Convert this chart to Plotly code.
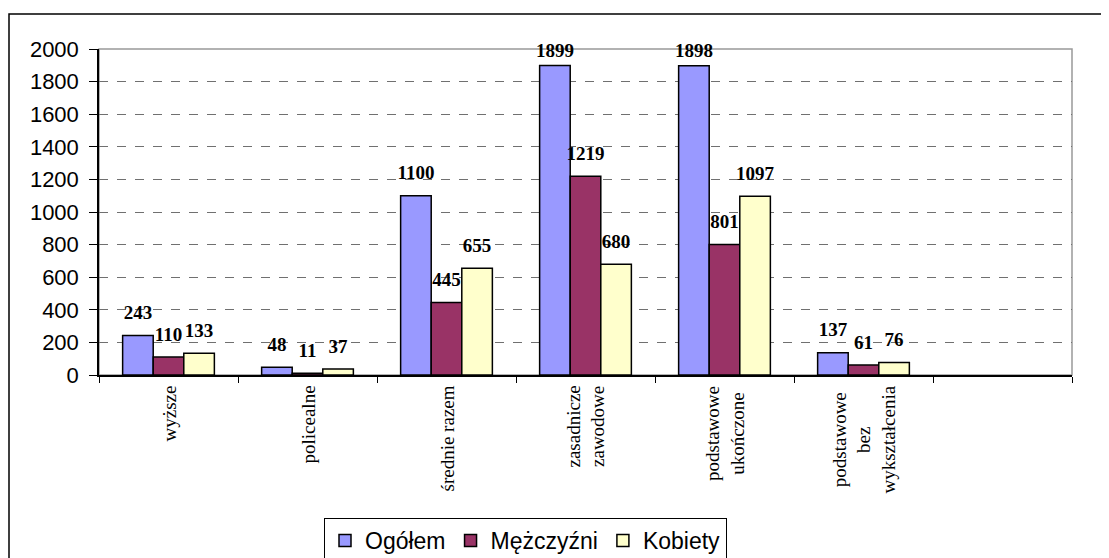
import plotly.graph_objects as go

categories = ["wyższe", "policealne", "średnie razem", "zasadnicze<br>zawodowe",
              "podstawowe<br>ukończone", "podstawowe<br>bez<br>wykształcenia", " "]
ogolem = [243, 48, 1100, 1899, 1898, 137, None]
mezczyzni = [110, 11, 445, 1219, 801, 61, None]
kobiety = [133, 37, 655, 680, 1097, 76, None]
series_names = ["Ogółem", "Mężczyźni", "Kobiety"]
colors = ["#9999FF", "#993366", "#FFFFCC"]
y_max = 2000

# page body has an 8px margin; work in page pixel coordinates and shift
OFF = 8
W, H = 1109 - OFF, 558 - OFF
PL, PR, PT, PB = 99, 1072, 49, 375          # plot area in page pixels
L, R, T, B = PL - OFF, (W + OFF) - PR, PT - OFF, (H + OFF) - PB
pw, ph = PR - PL, PB - PT

def px(x):
    return (x - PL) / pw

def py(y):
    return (PB - y) / ph

fig = go.Figure()
for name, vals, col in zip(series_names, [ogolem, mezczyzni, kobiety], colors):
    fig.add_trace(go.Bar(
        x=categories, y=vals, name=name, offsetgroup=name, alignmentgroup="a",
        marker=dict(color=col, line=dict(color="black", width=1.5)),
    ))
for name, vals in zip(series_names, [ogolem, mezczyzni, kobiety]):
    # labels near the top of the value axis are pulled closer to their bar
    sizes = [(5 if (v is not None and v > 0.9 * y_max) else 17) for v in vals]
    fig.add_trace(go.Scatter(
        x=categories, y=vals, mode="markers+text", offsetgroup=name, alignmentgroup="a",
        text=[("" if v is None else str(v)) for v in vals],
        textposition="top center", showlegend=False, cliponaxis=False,
        marker=dict(size=sizes, color="rgba(0,0,0,0)", opacity=0,
                    line=dict(width=0, color="rgba(0,0,0,0)")),
        textfont=dict(family="Liberation Serif", size=19, color="black", weight="bold"),
        hoverinfo="skip",
    ))

# category labels (rotated, lines centred)
for c in categories:
    if c.strip():
        fig.add_annotation(
            x=c, xref="x", y=0, yref="paper", yanchor="top", xanchor="center",
            text=c, textangle=-90, align="center", showarrow=False, yshift=-9,
            font=dict(family="Liberation Serif", size=19, color="black"),
        )

fig.update_layout(
    width=W, height=H,
    margin=dict(l=L, r=R, t=T, b=B, pad=0, autoexpand=False),
    paper_bgcolor="white", plot_bgcolor="white",
    barmode="group", bargap=0.34, bargroupgap=0,
    scattermode="group", scattergap=0.34,
    showlegend=True,
    legend=dict(orientation="h", x=px(324), xanchor="left", y=py(518), yanchor="top",
                bordercolor="black", borderwidth=1,
                font=dict(family="Liberation Sans", size=23, color="black"),
                traceorder="normal", itemwidth=30, tracegroupgap=0),
    font=dict(family="Liberation Sans", color="black"),
)
fig.update_yaxes(
    range=[0, y_max], dtick=200, tickmode="linear",
    showgrid=True, gridcolor="#707070", griddash="dash", gridwidth=1,
    showline=True, linecolor="black", linewidth=1.5,
    ticks="outside", ticklen=8, tickcolor="black", ticklabelstandoff=6,
    tickfont=dict(family="Liberation Sans", size=22, color="black"),
    zeroline=False, automargin=False,
)
fig.update_xaxes(
    type="category", tickson="boundaries", ticks="outside", ticklen=6, tickcolor="black",
    showline=True, linecolor="black", linewidth=1.5, showticklabels=False,
    showgrid=False, automargin=False,
)
# plot-area frame (gray) and outer chart border
fig.add_shape(type="rect", xref="paper", yref="paper", x0=0, x1=1, y0=0, y1=1,
              line=dict(color="#999999", width=1.5), layer="below")
fig.add_shape(type="rect", xref="paper", yref="paper",
              x0=px(9), x1=px(1105), y0=py(575), y1=py(14),
              line=dict(color="black", width=1.5), layer="below")

fig.write_html("out.html")
